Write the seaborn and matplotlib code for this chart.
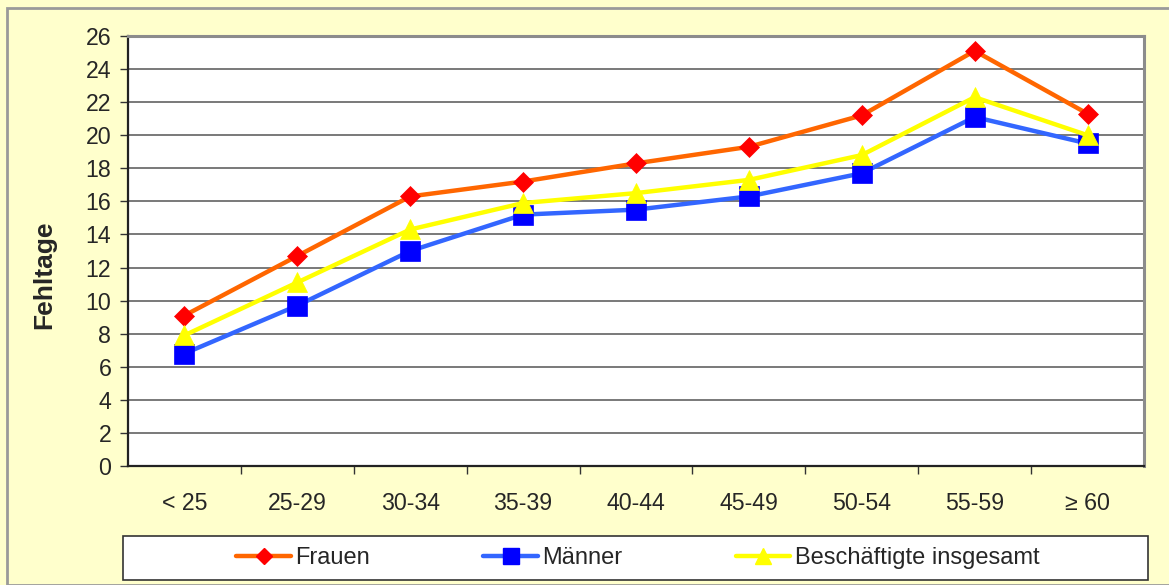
import matplotlib
matplotlib.use("Agg")
import matplotlib.pyplot as plt
from matplotlib.patches import Rectangle
from matplotlib.lines import Line2D
import seaborn as sns
import pandas as pd

# Altersgruppen und durchschnittliche Fehltage
age_groups = ["< 25", "25-29", "30-34", "35-39", "40-44", "45-49", "50-54", "55-59", "≥ 60"]
frauen = [9.1, 12.7, 16.3, 17.2, 18.3, 19.3, 21.2, 25.1, 21.3]
maenner = [6.8, 9.7, 13.0, 15.2, 15.5, 16.3, 17.7, 21.1, 19.5]
gesamt = [7.9, 11.1, 14.3, 15.9, 16.5, 17.3, 18.8, 22.3, 20.0]

series_names = ["Frauen", "Männer", "Beschäftigte insgesamt"]
line_colors = ["#FF6600", "#3366FF", "#FFFF00"]
marker_colors = ["#FF0000", "#0000FF", "#FFFF00"]
markers = ["D", "s", "^"]
marker_sizes = [10, 14, 14]

rows = []
for name, vals in zip(series_names, [frauen, maenner, gesamt]):
    for i, v in enumerate(vals):
        rows.append({"pos": i, "Gruppe": age_groups[i], "Serie": name, "Fehltage": v})
df = pd.DataFrame(rows)

sns.set_theme(style="white")
plt.rcParams["font.family"] = ["Liberation Sans", "DejaVu Sans"]

W, H = 1169, 585
fig = plt.figure(figsize=(W / 100, H / 100), dpi=100)
fig.patch.set_facecolor("#FFFFCC")

# outer chart frame
fig.patches.append(Rectangle((7 / W, 0), 1.2, 1 - 8 / H, transform=fig.transFigure,
                             facecolor="none", edgecolor="#9A9A9A", linewidth=2, zorder=0))

ax = fig.add_axes([128 / W, 1 - 466 / H, 1016 / W, 430 / H])
ax.set_facecolor("white")

for name, lc, mc, mk, ms in zip(series_names, line_colors, marker_colors, markers, marker_sizes):
    sub = df[df["Serie"] == name]
    sns.lineplot(data=sub, x="pos", y="Fehltage", ax=ax, color=lc, linewidth=3.2,
                 marker=mk, markersize=ms, markerfacecolor=mc, markeredgecolor=mc,
                 markeredgewidth=0.5, legend=False, zorder=3)

ax.set_xlim(-0.5, len(age_groups) - 0.5)
ax.set_ylim(0, 26)
ax.set_yticks(range(0, 27, 2))
ax.yaxis.grid(True, color="#555555", linewidth=1.1)
ax.xaxis.grid(False)
ax.set_axisbelow(True)

# tick marks between categories, labels centred under each category
ax.set_xticks([i + 0.5 for i in range(len(age_groups) - 1)])
ax.set_xticklabels([])
ax.set_xticks(range(len(age_groups)), minor=True)
ax.set_xticklabels(age_groups, minor=True)
ax.tick_params(axis="x", which="major", direction="out", length=6, width=1, color="#333333", bottom=True)
ax.tick_params(axis="x", which="minor", length=0, pad=19, labelsize=16.7)
ax.tick_params(axis="y", direction="out", length=6, width=1, color="#333333", left=True, labelsize=16.7, pad=6)

for side in ["left", "bottom"]:
    ax.spines[side].set_color("#222222")
    ax.spines[side].set_linewidth(1.6)
for side in ["top", "right"]:
    ax.spines[side].set_color("#8C8C8C")
    ax.spines[side].set_linewidth(2.2)

ax.set_xlabel("")
ax.set_ylabel("Fehltage", fontsize=19, fontweight="bold", va="center")
ax.yaxis.set_label_coords((44 - 128) / 1016, (466 - 275) / 430)

# legend box
fig.patches.append(Rectangle((123 / W, 1 - 580 / H), (1148 - 123) / W, 44 / H,
                             transform=fig.transFigure, facecolor="white",
                             edgecolor="#333333", linewidth=1.2, zorder=1))
handles = [Line2D([], [], color=lc, linewidth=3.2, marker=mk, markersize=ms * 0.85,
                  markerfacecolor=mc, markeredgecolor=mc)
           for lc, mc, mk, ms in zip(line_colors, marker_colors, markers, marker_sizes)]
fig.legend(handles, series_names, loc="center", bbox_to_anchor=(638 / W, 1 - 558 / H),
           ncol=3, frameon=False, fontsize=17, handlelength=2.3, handletextpad=0.2,
           columnspacing=4.8)

fig.savefig("out.png", dpi=100, facecolor=fig.get_facecolor())
